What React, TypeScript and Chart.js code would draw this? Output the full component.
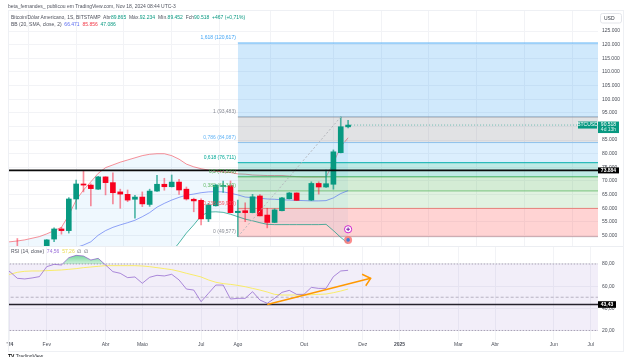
import React, { useEffect, useRef } from "react";
import { Chart, registerables } from "chart.js";

Chart.register(...registerables);

// ---------- data ----------
const candleWeeks = [1, 5, 6, 7, 8, 9, 10, 11, 12, 13, 14, 15, 16, 17, 18, 19, 20, 21, 22, 23, 24, 25, 26, 27, 28, 29, 30, 31, 32, 33, 34, 35, 36, 37, 38, 39, 41, 42, 43, 44, 45, 46];
const opens = [44200, 42600, 48700, 52400, 51800, 63400, 68900, 68500, 67000, 71500, 69400, 66000, 65100, 63300, 64100, 61400, 66300, 68800, 67900, 69600, 67000, 63300, 62900, 56100, 60900, 68000, 68300, 58400, 59100, 58400, 64500, 57500, 54800, 59100, 63500, 65600, 63000, 69100, 67800, 68800, 80400, 89865];
const highs = [48900, 48500, 52800, 53000, 63900, 70300, 73800, 69000, 71700, 71600, 73000, 67000, 66700, 64700, 66000, 67000, 72100, 71000, 72200, 70600, 67800, 63700, 63500, 61800, 68700, 70000, 70000, 63000, 62000, 65100, 65000, 60000, 59800, 64000, 65800, 65700, 69700, 69700, 74000, 81400, 93483, 92234];
const lows = [41500, 42500, 47700, 50500, 50900, 59700, 66000, 60900, 66900, 64900, 61600, 60000, 62400, 56400, 60600, 60700, 66200, 66600, 67800, 65100, 63000, 58700, 53900, 55100, 60800, 65800, 58300, 49577, 55100, 58300, 57200, 52800, 54700, 59000, 63400, 62800, 62800, 65200, 67600, 67000, 80300, 89452];
const closes = [42800, 48400, 52400, 51800, 63400, 68900, 68500, 67200, 71500, 69400, 65700, 65200, 63000, 64100, 61600, 66300, 68800, 67900, 69600, 66700, 63400, 62700, 56100, 61200, 68500, 68300, 58400, 58900, 58400, 64200, 57200, 54800, 59400, 63800, 65600, 62900, 69100, 67800, 69000, 80700, 89900, 90518];

// indicator series start one week before the first tick (week -1) and end at week 46
const FIRST_WEEK = -1;
const bbUpper = [47500, 47700, 48000, 48400, 49000, 49600, 50600, 51800, 53000, 57500, 63000, 66700, 69700, 72800, 74900, 75900, 76900, 77700, 78500, 79300, 79800, 80000, 80000, 79300, 78000, 76200, 75200, 74500, 74000, 73600, 73300, 73100, 72600, 72500, 72200, 72100, 72000, 72000, 72000, 71800, 71600, 71500, 71500, 71500, 71500, 76600, 82600, 85856];
const bbBasis = [43000, 43000, 43000, 43000, 43000, 43100, 43300, 43700, 44200, 44800, 45600, 46500, 47700, 50100, 51800, 53000, 53900, 54700, 55600, 56900, 58400, 60400, 61800, 63000, 64000, 64800, 65200, 65700, 66000, 66100, 66000, 65500, 64900, 64100, 63900, 63700, 63400, 63300, 63100, 63000, 62900, 62800, 62700, 62700, 62800, 63800, 65400, 66471];
const bbLower = [38500, 38500, 38500, 38500, 38500, 38400, 38300, 38000, 37400, 36500, 35000, 34000, 33000, 32000, 33000, 34000, 35000, 37000, 39000, 40000, 41000, 42000, 43500, 44000, 47300, 50900, 53900, 57200, 58600, 58700, 58500, 57800, 56900, 56000, 55400, 54700, 54100, 54000, 54000, 54000, 54000, 54000, 54000, 54000, 54100, 51800, 49300, 47086];
const rsiValues = [76, 73, 67.1, 66.5, 67.4, 68.6, 77.6, 79.7, 79.1, 85.7, 87.8, 87.2, 83.6, 85.1, 79.1, 73.1, 71.6, 67.7, 68.3, 62.6, 68, 69.8, 69.2, 70.7, 65.6, 57.4, 56.5, 46, 53.5, 61, 61, 48.4, 49, 49, 55, 47.5, 44.5, 49, 54.4, 56.2, 52.6, 52.6, 58.9, 58, 58, 68.6, 73.7, 74.3];
const rsiMa = [69.5, 70.7, 72.5, 73.4, 73.7, 73.7, 74, 74.3, 74.6, 75.2, 75.8, 76.7, 77.3, 77.9, 78.5, 78.5, 78.5, 78.5, 78.5, 78.2, 77.6, 76.7, 75.8, 74.9, 73.4, 71.6, 70, 68.3, 65.6, 63.5, 62.3, 61.6, 60.7, 59.5, 58, 56.5, 54.7, 52.6, 52, 52, 52, 52, 52.3, 52.6, 52.9, 54.1, 55.6, 57.4];

const fibLevels = [120617, 93483, 84087, 76711, 71530, 66349, 59939, 49577];
const fibNames = ["1,618 (120,617)", "1 (93,483)", "0,786 (84,087)", "0,618 (76,711)", "0,5 (71,530)", "0,382 (66,349)", "0,236 (59,939)", "0 (49,577)"];
const fibLine = ["#64b5f6", "#9a9ca3", "#90caf9", "#00b3a4", "#4caf50", "#81c784", "#f77c80", "#b8bac2"];
const fibText = ["#42a5f5", "#8a8d96", "#64b5f6", "#00a896", "#43a047", "#66bb6a", "#f7525f", "#8a8d96"];
const fibFill = ["rgba(33,150,243,0.21)", "rgba(120,123,134,0.22)", "rgba(33,150,243,0.16)", "rgba(0,170,150,0.25)", "rgba(76,175,80,0.24)", "rgba(76,175,80,0.17)", "rgba(255,70,70,0.24)"];

const priceTicks = [50000, 55000, 60000, 65000, 70000, 75000, 80000, 85000, 90000, 95000, 100000, 105000, 110000, 115000, 120000, 125000];
const rsiTicks = [20, 40, 60, 80];
const monthWeeks = [0, 5, 13, 18, 26, 31, 40, 48, 53, 61, 66, 74, 79];
const monthLabels = ["'24", "Fev", "Abr", "Maio", "Jul", "Ago", "Out", "Dez", "2025", "Mar", "Abr", "Jun", "Jul"];
const boldMonths = ["'24", "2025"];

const hLine = 73884;
const rsiLine = 43.43;
const lastPrice = 90518;
const lastWeek = 46;
const fibStartWeek = 31;
const fibEndWeek = 45;
const markerPlus = 52300;
const markerFlag = 48400;
const arrowShaft = [{ x: 35, y: 43.43 }, { x: 49.07, y: 67.1 }];
const arrowHead = [{ x: 47.9, y: 70.7 }, { x: 49.07, y: 67.1 }, { x: 48.4, y: 60.4 }];

// ---------- style constants ----------
const FONT = "'Liberation Sans', Arial, sans-serif";
const X_MIN = -0.272;
const X_MAX = 80;
const GREEN = "#089981";
const RED = "#f8001e";
const GRID = "#f2f3f6";
const TEXT = "#4a4e58";

const series = (vals: number[]) => vals.map((y, i) => ({ x: i + FIRST_WEEK, y }));
const flat = (y: number, a: number, b: number) => [{ x: a, y }, { x: b, y }];

const noPadding = () => ({ left: 0, top: 0, right: 0, bottom: 0 });

const xScale = (showLabels: boolean) => ({
  type: "linear",
  min: X_MIN,
  max: X_MAX,
  offset: false,
  afterBuildTicks: (s: any) => {
    s.ticks = monthWeeks.map((value) => ({ value }));
  },
  afterFit: (s: any) => {
    s.height = showLabels ? 12 : 0;
    s.getPadding = noPadding;
  },
  grid: { color: GRID, drawTicks: false, lineWidth: 1 },
  border: { display: false },
  ticks: {
    display: showLabels,
    autoSkip: false,
    maxRotation: 0,
    padding: 2,
    color: TEXT,
    font: (ctx: any) => ({
      family: FONT,
      size: 5,
      weight: boldMonths.includes(ctx.tick ? monthLabels[monthWeeks.indexOf(ctx.tick.value)] : "") ? "bold" : "normal",
    }),
    callback: (v: any) => monthLabels[monthWeeks.indexOf(v)] ?? "",
  },
});

const yScale = (min: number, max: number, tickVals: number[], fmt: (v: number) => string) => ({
  type: "linear",
  position: "right",
  min,
  max,
  afterBuildTicks: (s: any) => {
    s.ticks = tickVals.map((value) => ({ value }));
  },
  afterFit: (s: any) => {
    s.width = 25;
    s.getPadding = noPadding;
  },
  grid: { color: GRID, drawTicks: false },
  border: { display: false },
  ticks: {
    autoSkip: false,
    padding: 4,
    color: TEXT,
    font: { family: FONT, size: 5 },
    callback: (v: any) => fmt(Number(v)),
  },
});

const box = (ctx: any, x: number, y: number, w: number, h: number, fill: string) => {
  ctx.fillStyle = fill;
  ctx.fillRect(x, y, w, h);
};
const label = (ctx: any, t: string, x: number, y: number, color: string, align = "left", bold = false) => {
  ctx.font = `${bold ? "bold " : ""}5px ${FONT}`;
  ctx.fillStyle = color;
  ctx.textAlign = align;
  ctx.textBaseline = "middle";
  ctx.fillText(t, x, y);
};

const priceLabels = {
  id: "priceLabels",
  afterDatasetsDraw(chart: any) {
    const { ctx, scales } = chart;
    const y = scales.y;
    const startX = scales.x.getPixelForValue(fibStartWeek);
    ctx.save();
    fibLevels.forEach((lvl, i) => {
      label(ctx, fibNames[i], startX - 2, y.getPixelForValue(lvl) - 5, fibText[i], "right");
    });
    // last price tags
    const ly = y.getPixelForValue(lastPrice);
    box(ctx, 578, ly - 3.5, 19, 7, GREEN);
    label(ctx, "BTCUSD", 587.5, ly, "#ffffff", "center");
    box(ctx, 598, ly - 3.5, 21, 11.5, GREEN);
    label(ctx, "90.518", 608.5, ly, "#ffffff", "center");
    label(ctx, "4d 13h", 608.5, ly + 5, "#d6f2ec", "center");
    // horizontal line tag
    const hy = y.getPixelForValue(hLine);
    box(ctx, 598, hy - 3, 21, 6, "#000000");
    label(ctx, "73.884", 608.5, hy, "#ffffff", "center", true);
    // currency box
    ctx.strokeStyle = "#e3e5ea";
    ctx.lineWidth = 1;
    ctx.beginPath();
    ctx.roundRect(600.5, 13.5, 21, 9.5, 2);
    ctx.fillStyle = "#ffffff";
    ctx.fill();
    ctx.stroke();
    label(ctx, "USD", 604, 18.3, "#333740");
    ctx.restore();
  },
};

const rsiLabels = {
  id: "rsiLabels",
  afterDatasetsDraw(chart: any) {
    const { ctx, scales } = chart;
    const ry = scales.y.getPixelForValue(rsiLine);
    ctx.save();
    box(ctx, 598, ry - 3.3, 18, 6.6, "#000000");
    label(ctx, "43,43", 607, ry, "#ffffff", "center", true);
    ctx.restore();
  },
};

function priceConfig(): any {
  const fibSets = fibLevels.map((lvl, i) => ({
    type: "line",
    data: flat(lvl, fibStartWeek, X_MAX + 1),
    borderColor: fibLine[i],
    borderWidth: 1,
    pointRadius: 0,
    order: 50,
    fill: i < fibFill.length ? { target: { value: fibLevels[i + 1] }, above: fibFill[i], below: fibFill[i] } : false,
  }));
  const base = fibSets.length;
  return {
    type: "bar",
    data: {
      datasets: [
        ...fibSets,
        {
          type: "line",
          data: series(bbUpper),
          borderColor: "rgba(242,54,69,0.55)",
          borderWidth: 1,
          pointRadius: 0,
          order: 60,
          fill: { target: base + 2, above: "rgba(33,150,243,0.07)", below: "rgba(33,150,243,0.07)" },
        },
        { type: "line", data: series(bbBasis), borderColor: "rgba(60,90,240,0.55)", borderWidth: 1, pointRadius: 0, order: 40, fill: false },
        { type: "line", data: series(bbLower), borderColor: "rgba(8,153,129,0.7)", borderWidth: 1, pointRadius: 0, order: 40, fill: false },
        {
          type: "bar",
          data: candleWeeks.map((x, i) => ({ x, y: [lows[i], highs[i]] })),
          backgroundColor: candleWeeks.map((_, i) => (closes[i] >= opens[i] ? "rgba(8,153,129,0.7)" : "rgba(248,0,30,0.45)")),
          barThickness: 1,
          grouped: false,
          order: 9,
        },
        {
          type: "bar",
          data: candleWeeks.map((x, i) => ({ x, y: [opens[i], closes[i]] })),
          backgroundColor: candleWeeks.map((_, i) => (closes[i] >= opens[i] ? GREEN : RED)),
          barThickness: 5,
          grouped: false,
          minBarLength: 1,
          order: 8,
        },
        { type: "line", data: [{ x: fibStartWeek, y: fibLevels[7] }, { x: fibEndWeek, y: fibLevels[1] }], borderColor: "#b4b6bc", borderWidth: 1, borderDash: [2, 2], pointRadius: 0, order: 7, fill: false },
        { type: "line", data: flat(lastPrice, lastWeek, X_MAX + 1), borderColor: "rgba(8,153,129,0.55)", borderWidth: 1, borderDash: [1, 2], pointRadius: 0, order: 6, fill: false },
        { type: "line", data: flat(hLine, X_MIN - 1, X_MAX + 1), borderColor: "#0b0b0b", borderWidth: 1.6, pointRadius: 0, order: 5, fill: false },
        { type: "line", data: [{ x: lastWeek, y: markerPlus }], showLine: false, pointRadius: 3.6, pointBackgroundColor: "#ffffff", pointBorderColor: "#cc22cc", pointBorderWidth: 1, order: 3 },
        { type: "line", data: [{ x: lastWeek, y: markerPlus }], showLine: false, pointStyle: "cross", pointRadius: 1.8, pointBorderColor: "#7a1fa2", pointBorderWidth: 1, order: 2 },
        { type: "line", data: [{ x: lastWeek, y: markerFlag }], showLine: false, pointRadius: 4, pointBackgroundColor: "rgba(250,120,120,0.85)", pointBorderColor: "rgba(250,120,120,0.85)", pointBorderWidth: 0, order: 3 },
        { type: "line", data: [{ x: lastWeek, y: markerFlag }], showLine: false, pointRadius: 1.8, pointBackgroundColor: "#3f7fd8", pointBorderColor: "#3f7fd8", pointBorderWidth: 0, order: 2 },
      ],
    },
    options: {
      animation: false,
      responsive: false,
      layout: { padding: { left: 8, top: 10, right: 2, bottom: 0 } },
      plugins: { legend: { display: false }, tooltip: { enabled: false } },
      elements: { line: { tension: 0 } },
      scales: {
        x: xScale(false),
        y: yScale(46155, 132720, priceTicks, (v) => v.toLocaleString("de-DE")),
      },
    },
    plugins: [priceLabels],
  };
}

function rsiConfig(canvas: HTMLCanvasElement): any {
  const c = canvas.getContext("2d") as CanvasRenderingContext2D;
  const grad = c.createLinearGradient(0, 6, 0, 20);
  grad.addColorStop(0, "rgba(30,190,90,0.75)");
  grad.addColorStop(1, "rgba(30,190,90,0.12)");
  return {
    type: "line",
    data: {
      datasets: [
        { data: flat(80, X_MIN - 1, X_MAX + 1), borderColor: "#a9a2b5", borderWidth: 1, borderDash: [1.5, 1.5], pointRadius: 0, order: 30, fill: { target: { value: 20 }, above: "rgba(126,87,194,0.1)", below: "rgba(126,87,194,0.1)" } },
        { data: flat(20, X_MIN - 1, X_MAX + 1), borderColor: "#a9a2b5", borderWidth: 1, borderDash: [1.5, 1.5], pointRadius: 0, order: 29, fill: false },
        { data: flat(50, X_MIN - 1, X_MAX + 1), borderColor: "#b8b2c2", borderWidth: 1, borderDash: [3, 2], pointRadius: 0, order: 28, fill: false },
        { data: series(rsiMa), borderColor: "rgba(250,235,70,0.8)", borderWidth: 1, pointRadius: 0, order: 20, fill: false },
        { data: series(rsiValues), borderColor: "rgba(130,80,200,0.65)", borderWidth: 1, pointRadius: 0, order: 10, fill: { target: { value: 80 }, above: grad, below: "rgba(0,0,0,0)" } },
        { data: flat(rsiLine, X_MIN - 1, X_MAX + 1), borderColor: "#26222c", borderWidth: 1.5, pointRadius: 0, order: 5, fill: false },
        { data: arrowShaft, borderColor: "#ff9800", borderWidth: 1.5, pointRadius: 0, order: 3, fill: false },
        { data: arrowHead, borderColor: "#ff9800", borderWidth: 1.5, pointRadius: 0, order: 3, fill: false },
      ],
    },
    options: {
      animation: false,
      responsive: false,
      layout: { padding: { left: 8, top: 1, right: 2, bottom: 5 } },
      plugins: { legend: { display: false }, tooltip: { enabled: false } },
      elements: { line: { tension: 0 } },
      scales: {
        x: xScale(true),
        y: yScale(11.41, 95.34, rsiTicks, (v) => v.toFixed(2).replace(".", ",")),
      },
    },
    plugins: [rsiLabels],
  };
}

const textStyle: React.CSSProperties = { position: "absolute", font: `5px ${FONT}`, color: "#50535e", whiteSpace: "pre", zIndex: 5, lineHeight: "6px" };

export default function App() {
  const priceRef = useRef<HTMLCanvasElement>(null);
  const rsiRef = useRef<HTMLCanvasElement>(null);
  useEffect(() => {
    const a = new Chart(priceRef.current as HTMLCanvasElement, priceConfig());
    const b = new Chart(rsiRef.current as HTMLCanvasElement, rsiConfig(rsiRef.current as HTMLCanvasElement));
    return () => {
      a.destroy();
      b.destroy();
    };
  }, []);
  return (
    <div style={{ position: "fixed", left: 0, top: 0, width: 625, height: 357, background: "#fff", overflow: "hidden" }}>
      <canvas ref={priceRef} width={625} height={251} style={{ position: "absolute", left: 0, top: 0, width: 625, height: 251 }} />
      <canvas ref={rsiRef} width={625} height={111} style={{ position: "absolute", left: 0, top: 246, width: 625, height: 111 }} />
      <div style={{ position: "absolute", left: 8, top: 10, width: 614, height: 340, border: "1px solid #eef0f4", zIndex: 4, pointerEvents: "none" }} />
      <div style={{ position: "absolute", left: 8, top: 246, width: 615, height: 1, background: "#eceef2", zIndex: 4 }} />
      <div style={{ ...textStyle, left: 8, top: 3 }}>beta_fernandes_ publicou em TradingView.com, Nov 18, 2024 08:44 UTC-3</div>
      <div style={{ ...textStyle, left: 11, top: 14 }}>
        Bitcoin/Dólar Americano, 1S, BITSTAMP{"  "}Abr<span style={{ color: GREEN }}>89.865</span>{"  "}Máx.<span style={{ color: GREEN }}>92.234</span>{"  "}Mín.<span style={{ color: GREEN }}>89.452</span>{"  "}Fch<span style={{ color: GREEN }}>90.518</span>{"  "}<span style={{ color: GREEN }}>+467 (+0,71%)</span>
      </div>
      <div style={{ ...textStyle, left: 11, top: 21 }}>
        BB (20, SMA, close, 2){"  "}<span style={{ color: "#5b6cf0" }}>66.471</span>{"  "}<span style={{ color: "#f23645" }}>85.856</span>{"  "}<span style={{ color: GREEN }}>47.086</span>
      </div>
      <div style={{ ...textStyle, left: 11, top: 248 }}>
        RSI (14, close){"  "}<span style={{ color: "#9a6fd8" }}>74,56</span>{"  "}<span style={{ color: "#e8d84a" }}>57,26</span>{"  "}∅{"  "}∅
      </div>
      <div style={{ ...textStyle, left: 8, top: 353, color: "#30333a" }}>
        <span style={{ fontWeight: "bold", color: "#000" }}>TV</span> TradingView
      </div>
    </div>
  );
}
